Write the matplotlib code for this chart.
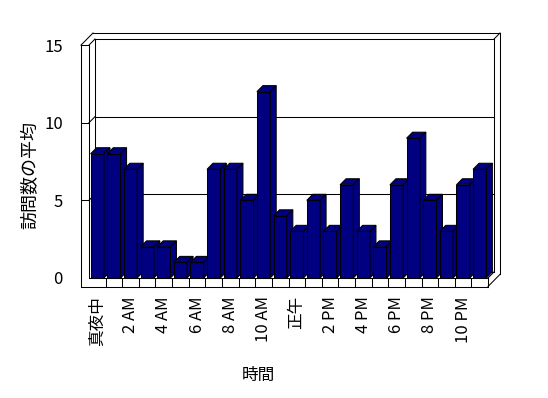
import matplotlib
matplotlib.use('Agg')
import matplotlib.pyplot as plt
from matplotlib.patches import Polygon

plt.rcParams['font.family'] = ['Noto Sans CJK JP', 'DejaVu Sans']

# データ: 時間帯ごとの訪問数の平均
hours = ['真夜中', '1 AM', '2 AM', '3 AM', '4 AM', '5 AM', '6 AM', '7 AM',
         '8 AM', '9 AM', '10 AM', '11 AM', '正午', '1 PM', '2 PM', '3 PM',
         '4 PM', '5 PM', '6 PM', '7 PM', '8 PM', '9 PM', '10 PM', '11 PM']
visits = [8, 8, 7, 2, 2, 1, 1, 7, 7, 5, 12, 4, 3, 5, 3, 6, 3, 2, 6, 9, 5, 3, 6, 7]
y_ticks = [0, 5, 10, 15]

W, H = 548, 398
NAVY = '#000080'
LW = 0.75

# 3D風の奥行き (データ単位)
n = len(hours)
top = y_ticks[-1]
dx, dy = 0.36, 0.39      # 奥行きのずれ
wt, ft = 0.48, 0.55      # 壁と床の厚さ

fig = plt.figure(figsize=(W / 100, H / 100), dpi=100)
ax = fig.add_axes([81 / W, 1 - 286.5 / H, 419 / W, 253.5 / H])
ax.set_xlim(-wt, n + 2 * dx)
ax.set_ylim(-ft, top + 2 * dy)
for s in ax.spines.values():
    s.set_visible(False)


def line(xs, ys, z=1):
    ax.plot(xs, ys, color='black', lw=LW, zorder=z, clip_on=False,
            solid_capstyle='projecting')


# 壁と床
line([-wt, -wt], [top, -ft])
line([0, 0], [top, 0])
line([-wt, 0], [top, top])
line([-wt, -wt + 2 * dx], [top, top + 2 * dy])
line([0, dx], [top, top + dy])
line([dx, dx], [top + dy, dy])
line([dx, n + dx], [top + dy, top + dy])
line([-wt + 2 * dx, n + 2 * dx], [top + 2 * dy, top + 2 * dy])
line([n + dx, n + dx], [top + dy, dy])
line([n + dx, n + 2 * dx], [top + dy, top + 2 * dy])
line([n + 2 * dx, n + 2 * dx], [top + 2 * dy, -ft + 2 * dy])
line([n, n + 2 * dx], [-ft, -ft + 2 * dy])
line([n, n + dx], [0, dy])
line([dx, n + dx], [dy, dy])
line([0, n], [0, 0], z=5)
line([-wt, n], [-ft, -ft], z=5)
line([n, n], [0, -ft], z=5)
for i in range(1, n):
    line([i, i], [0, -ft], z=5)

# 目盛線
for v in y_ticks[1:-1]:
    line([dx, n + dx], [v + dy, v + dy])
    line([0, dx], [v, v + dy])
    line([-wt, 0], [v, v])

# 棒 (前面 + 上面 + 側面)
xs = [i + 0.5 for i in range(n)]
bw = 0.8
bars = ax.bar(xs, visits, width=bw, color=NAVY, edgecolor='black', linewidth=LW)
for i, (b, v) in enumerate(zip(bars, visits)):
    z = 2 + i * 0.01
    b.set_zorder(z)
    x0, x1 = xs[i] - bw / 2, xs[i] + bw / 2
    top_face = Polygon([(x0, v), (x1, v), (x1 + dx, v + dy), (x0 + dx, v + dy)],
                       closed=True, facecolor=NAVY, edgecolor='black', lw=LW,
                       zorder=z + 0.005)
    side_face = Polygon([(x1, 0), (x1, v), (x1 + dx, v + dy), (x1 + dx, dy)],
                        closed=True, facecolor=NAVY, edgecolor='black', lw=LW,
                        zorder=z + 0.005)
    ax.add_patch(top_face)
    ax.add_patch(side_face)

# 軸ラベル
ax.set_xticks(xs[::2])
ax.set_xticklabels(hours[::2], rotation=90, fontsize=12)
ax.set_yticks(y_ticks)
ax.set_yticklabels([str(v) for v in y_ticks], fontsize=12)
ax.tick_params(axis='x', length=0, pad=7)
ax.tick_params(axis='y', length=0, pad=13)

fig.text(258 / W, 1 - 375 / H, '時間', ha='center', va='center', fontsize=12)
fig.text(30 / W, 1 - 175 / H, '訪問数の平均', ha='center', va='center',
         rotation=90, fontsize=13)

fig.savefig('out.png', dpi=100)
